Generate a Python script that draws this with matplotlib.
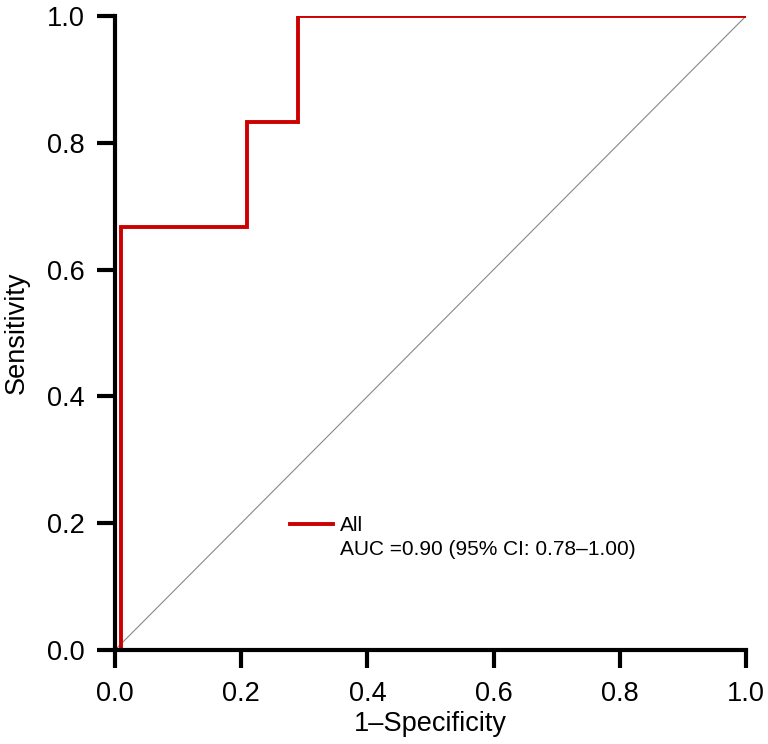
import matplotlib.pyplot as plt
from matplotlib.lines import Line2D

# Puntos de la curva ROC (1-especificidad, sensibilidad)
fpr = [0.0, 0.01, 0.01, 0.21, 0.21, 0.29, 0.29, 1.0]
tpr = [0.0, 0.0, 0.667, 0.667, 0.833, 0.833, 1.0, 1.0]

ticks = [0.0, 0.2, 0.4, 0.6, 0.8, 1.0]
etiqueta_serie = "All"
etiqueta_auc = "AUC =0.90 (95% CI: 0.78\u20131.00)"

plt.rcParams['font.family'] = ['Liberation Sans', 'DejaVu Sans']

fig = plt.figure(figsize=(7.68, 7.44), dpi=100)
ax = fig.add_axes([0.1497, 0.1263, 0.8217, 0.8522])

# Diagonal de referencia
ax.plot([0, 1], [0, 1], color='#888888', linewidth=0.8, zorder=1)

# Curva ROC
ax.plot(fpr, tpr, color='#CC0000', linewidth=2.8, zorder=2, solid_joinstyle='miter')

ax.set_xlim(0, 1)
ax.set_ylim(0, 1)
ax.set_xticks(ticks)
ax.set_yticks(ticks)
ax.set_xticklabels([f"{t:.1f}" for t in ticks])
ax.set_yticklabels([f"{t:.1f}" for t in ticks])

for lado in ['top', 'right']:
    ax.spines[lado].set_visible(False)
for lado in ['left', 'bottom']:
    ax.spines[lado].set_linewidth(3)
ax.tick_params(direction='out', length=13, width=3, labelsize=19.5, pad=9)

ax.set_xlabel("1\u2013Specificity", fontsize=19.5, labelpad=3)
ax.set_ylabel("Sensitivity", fontsize=19.5, labelpad=12)

# Leyenda sin marco
handles = [Line2D([], [], color='#CC0000', linewidth=2.8),
           Line2D([], [], color='none')]
ax.legend(handles, [etiqueta_serie, etiqueta_auc], frameon=False,
          loc='upper left', bbox_to_anchor=(0.2773, 0.211), fontsize=15,
          borderpad=0, borderaxespad=0,
          handlelength=2.07, handletextpad=0.34, labelspacing=0.25)

fig.savefig("out.png", dpi=100)
